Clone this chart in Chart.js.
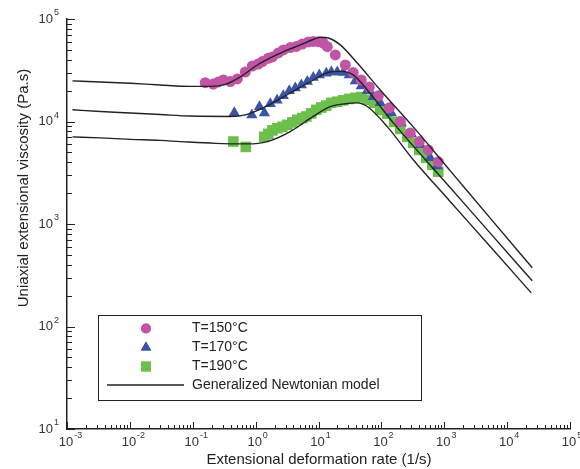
<!DOCTYPE html>
<html>
<head>
<meta charset="utf-8">
<script src="https://cdn.jsdelivr.net/npm/chart.js@4.4.1/dist/chart.umd.min.js"></script>
<style>
html, body { margin: 0; padding: 0; background: #fff; }
</style>
</head>
<body>
<canvas id="myChart" width="580" height="469"></canvas>
<script>
const rate150 = [0.158, 0.212, 0.255, 0.307, 0.396, 0.512, 0.685, 0.887, 1.10, 1.28, 1.59, 1.85, 2.30, 2.76, 3.56, 4.44, 5.52, 6.89, 8.26, 9.93, 11.9, 13.8, 18.5, 26.7, 35.7, 47.9, 64.1, 89.3, 134, 200, 288, 401, 557, 803];
const visc150 = [23900, 23200, 24300, 25400, 24500, 26000, 30400, 34800, 36400, 38400, 41400, 42700, 46700, 49900, 52700, 54000, 57000, 59700, 60400, 60100, 58300, 53700, 44600, 35600, 30000, 25400, 21700, 17800, 13600, 9980, 7740, 6370, 5280, 4060];

const rate170 = [0.458, 0.871, 1.15, 1.38, 1.71, 2.19, 2.75, 3.43, 4.28, 5.33, 6.64, 8.26, 10.3, 13.3, 16.0, 19.9, 24.8, 30.8, 38.5, 47.9, 59.7, 74.3, 95.9, 144, 207, 299, 415, 598, 774];
const visc170 = [12200, 11600, 13900, 12100, 14900, 16100, 17800, 19900, 21200, 22700, 24500, 26900, 28500, 29600, 30400, 30400, 30100, 28500, 24900, 22200, 19900, 17400, 15200, 12100, 9690, 7570, 5920, 4420, 3690];

const rate190 = [0.442, 0.698, 1.37, 1.59, 1.85, 2.22, 2.66, 3.20, 3.84, 4.61, 5.52, 6.40, 7.69, 9.23, 11.1, 13.3, 16.0, 19.9, 24.8, 30.8, 38.5, 47.9, 59.7, 77.1, 95.9, 124, 160, 200, 258, 321, 401, 518, 645, 803];
const visc190 = [6370, 5650, 7080, 7570, 8190, 8600, 8860, 9270, 9800, 10400, 10800, 11200, 12000, 13000, 13700, 14300, 15200, 15600, 16100, 16600, 17000, 17300, 16300, 15200, 13000, 11900, 9910, 8470, 7080, 6180, 5280, 4420, 3780, 3240];

// generalized Newtonian model curves (traced)
const modelRate150 = [0.00122, 0.0034, 0.0102, 0.0305, 0.0916, 0.191, 0.330, 0.571, 1.06, 1.71, 2.97, 5.14, 8.26, 10.7, 14.3, 22.2, 41.4, 95.9, 321, 1240, 5380, 25100];
const modelVisc150 = [24900, 24300, 23600, 22700, 22000, 22000, 23000, 27200, 35600, 41700, 48800, 55900, 63100, 66400, 65300, 55900, 37200, 20300, 8860, 3320, 1140, 374];

const modelRate170 = [0.00122, 0.0034, 0.0102, 0.0305, 0.0916, 0.396, 0.685, 1.32, 3.56, 8.26, 15.0, 22.2, 35.7, 59.7, 155, 1240, 5380, 25100];
const modelVisc170 = [13000, 12500, 12100, 11700, 11300, 11200, 11600, 13600, 19000, 25400, 30400, 30800, 28500, 20300, 9690, 2270, 815, 279];

const modelRate190 = [0.00122, 0.0034, 0.0102, 0.0305, 0.0635, 0.229, 0.738, 1.53, 3.56, 8.26, 15.0, 26.7, 41.4, 59.7, 124, 321, 1240, 5380, 24200];
const modelVisc190 = [7080, 6920, 6700, 6540, 6370, 6120, 6050, 6370, 7980, 11200, 13900, 14900, 15200, 14000, 8920, 4230, 1660, 603, 213];

// axis ticks
const xExponents = [-3, -2, -1, 0, 1, 2, 3, 4, 5];
const yExponents = [1, 2, 3, 4, 5];

const seriesLabels = ["T=150\u00B0C", "T=170\u00B0C", "T=190\u00B0C"];
const modelLabel = "Generalized Newtonian model";
const xTitle = "Extensional deformation rate (1/s)";
const yTitle = "Uniaxial extensional viscosity (Pa.s)";

const FONT = "'Liberation Sans', Arial, sans-serif";
const INK = "#222";

function pairs(xs, ys) {
  return xs.map((v, i) => ({ x: v, y: ys[i] }));
}

function markerSet(label, xs, ys, color, style, r) {
  return {
    label: label,
    data: pairs(xs, ys),
    showLine: false,
    pointStyle: style,
    pointRadius: r,
    pointHoverRadius: r,
    pointBackgroundColor: color,
    pointBorderColor: color,
    pointBorderWidth: 0,
    order: 2
  };
}

function modelSet(xs, ys) {
  return {
    label: modelLabel,
    data: pairs(xs, ys),
    showLine: true,
    borderColor: INK,
    borderWidth: 1.4,
    pointRadius: 0,
    cubicInterpolationMode: "monotone",
    fill: false,
    order: 1
  };
}

// exponent label like 10^-3, drawn as real text
function powerLabel(ctx, exp, x, y, align) {
  ctx.font = "13px " + FONT;
  const base = "10";
  const bw = ctx.measureText(base).width;
  ctx.font = "9px " + FONT;
  const ew = ctx.measureText(String(exp)).width;
  let left;
  if (align === "right") left = x - bw - ew - 1;
  else left = x - bw / 2 - 1;
  ctx.textAlign = "left";
  ctx.textBaseline = "middle";
  ctx.font = "13px " + FONT;
  ctx.fillText(base, left, y);
  ctx.font = "9px " + FONT;
  ctx.fillText(String(exp), left + bw + 1, y - 6);
}

const axisDecor = {
  id: "axisDecor",
  afterDraw(chart) {
    const ctx = chart.ctx;
    const a = chart.chartArea;
    const xs = chart.scales.x;
    const ys = chart.scales.y;
    ctx.save();
    ctx.strokeStyle = INK;
    ctx.fillStyle = INK;
    ctx.lineWidth = 1;

    // inward ticks, majors at decades
    ctx.beginPath();
    xExponents.forEach(p => {
      for (let m = 1; m <= 9; m++) {
        const v = m * Math.pow(10, p);
        if (v > xs.max * 1.001) break;
        const px = Math.round(xs.getPixelForValue(v)) + 0.5;
        const len = m === 1 ? 7 : 4;
        ctx.moveTo(px, a.bottom);
        ctx.lineTo(px, a.bottom - len);
      }
    });
    yExponents.forEach(p => {
      for (let m = 1; m <= 9; m++) {
        const v = m * Math.pow(10, p);
        if (v > ys.max * 1.001) break;
        const py = Math.round(ys.getPixelForValue(v)) + 0.5;
        const len = m === 1 ? 8 : 5;
        ctx.moveTo(a.left, py);
        ctx.lineTo(a.left + len, py);
      }
    });
    ctx.stroke();

    // tick labels
    ctx.fillStyle = "#333";
    xExponents.forEach(p => {
      powerLabel(ctx, p, xs.getPixelForValue(Math.pow(10, p)), a.bottom + 13, "center");
    });
    yExponents.forEach(p => {
      powerLabel(ctx, p, a.left - 8, ys.getPixelForValue(Math.pow(10, p)), "right");
    });

    // axis titles
    ctx.fillStyle = INK;
    ctx.font = "15px " + FONT;
    ctx.textAlign = "center";
    ctx.textBaseline = "middle";
    ctx.fillText(xTitle, 319, 460);
    ctx.save();
    ctx.translate(24, 188);
    ctx.rotate(-Math.PI / 2);
    ctx.fillText(yTitle, 0, 0);
    ctx.restore();

    // legend box
    const box = { left: 98.5, top: 315.5, right: 421.5, bottom: 400.5 };
    ctx.lineWidth = 1;
    ctx.strokeStyle = INK;
    ctx.strokeRect(box.left, box.top, box.right - box.left, box.bottom - box.top);
    const rows = [328.5, 347.5, 366.5, 385];
    const symX = 146;
    const textX = 192;
    ctx.font = "14px " + FONT;
    ctx.textAlign = "left";
    ctx.textBaseline = "middle";
    for (let i = 0; i < 3; i++) {
      const ds = chart.data.datasets[3 + i];
      ctx.fillStyle = ds.pointBackgroundColor;
      Chart.helpers.drawPoint(ctx, { pointStyle: ds.pointStyle, radius: ds.pointRadius - 0.5, borderWidth: 0 }, symX, rows[i]);
      ctx.fill();
      ctx.fillStyle = INK;
      ctx.fillText(ds.label, textX, rows[i]);
    }
    ctx.beginPath();
    ctx.lineWidth = 1.4;
    ctx.moveTo(107, rows[3]);
    ctx.lineTo(184, rows[3]);
    ctx.stroke();
    ctx.fillText(modelLabel, textX, rows[3]);
    ctx.restore();
  }
};

const ctx = document.getElementById("myChart");
new Chart(ctx, {
  type: "scatter",
  data: {
    datasets: [
      modelSet(modelRate150, modelVisc150),
      modelSet(modelRate170, modelVisc170),
      modelSet(modelRate190, modelVisc190),
      markerSet(seriesLabels[0], rate150, visc150, "#c154a4", "circle", 5.5),
      markerSet(seriesLabels[1], rate170, visc170, "#3a55a6", "triangle", 6.5),
      markerSet(seriesLabels[2], rate190, visc190, "#6cbf4a", "rect", 7.5)
    ]
  },
  options: {
    responsive: false,
    animation: false,
    layout: { padding: { top: 19, right: 10, left: 0, bottom: 0 } },
    plugins: {
      legend: { display: false },
      tooltip: { enabled: false }
    },
    scales: {
      x: {
        type: "logarithmic",
        min: 1e-3,
        max: 1e5,
        grid: { display: false },
        border: { display: true, color: INK, width: 1.5 },
        ticks: { display: false },
        afterFit(scale) { scale.height = 40; }
      },
      y: {
        type: "logarithmic",
        min: 1e1,
        max: 1e5,
        grid: { display: false },
        border: { display: true, color: INK, width: 1.5 },
        ticks: { display: false },
        afterFit(scale) { scale.width = 67; }
      }
    }
  },
  plugins: [axisDecor]
});
</script>
</body>
</html>
